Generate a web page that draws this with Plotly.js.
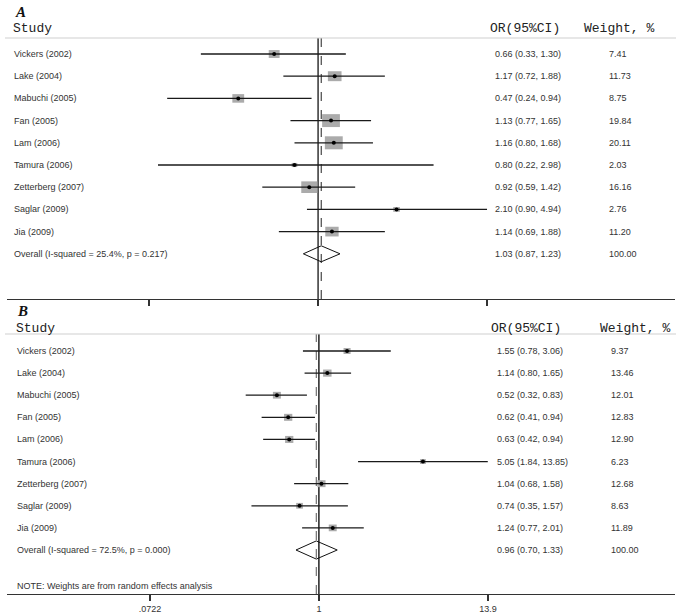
<!DOCTYPE html>
<html><head><meta charset="utf-8">
<script src="https://cdn.plot.ly/plotly-3.0.1.min.js"></script>
<style>html,body{margin:0;padding:0;background:#fff}</style>
</head><body><div id="chart" style="width:683px;height:615px"></div>
<script>
// ---------- data ----------
const studies = ["Vickers (2002)","Lake (2004)","Mabuchi (2005)","Fan (2005)","Lam (2006)","Tamura (2006)","Zetterberg (2007)","Saglar (2009)","Jia (2009)"];
// Panel A
const orA = [0.66,1.17,0.47,1.13,1.16,0.80,0.92,2.10,1.14];
const loA = [0.33,0.72,0.24,0.77,0.80,0.22,0.59,0.90,0.69];
const hiA = [1.30,1.88,0.94,1.65,1.68,2.98,1.42,4.94,1.88];
const wA  = [7.41,11.73,8.75,19.84,20.11,2.03,16.16,2.76,11.20];
const overallA = [1.03,0.87,1.23];
const overallLabelA = "Overall (I-squared = 25.4%, p = 0.217)";
const tickValsA = [0.202,1,4.94];
// Panel B
const orB = [1.55,1.14,0.52,0.62,0.63,5.05,1.04,0.74,1.24];
const loB = [0.78,0.80,0.32,0.41,0.42,1.84,0.68,0.35,0.77];
const hiB = [3.06,1.65,0.83,0.94,0.94,13.85,1.58,1.57,2.01];
const wB  = [9.37,13.46,12.01,12.83,12.90,6.23,12.68,8.63,11.89];
const overallB = [0.96,0.70,1.33];
const overallLabelB = "Overall (I-squared = 72.5%, p = 0.000)";
const tickValsB = [0.0722,1,13.9];
const tickTextB = [".0722","1","13.9"];
const overallWeight = "100.00";
const noteText = "NOTE: Weights are from random effects analysis";

// ---------- layout helpers ----------
const W=683, H=615;
const px = x => x/W, py = y => 1 - y/H;
const bodyFont = {family:"Liberation Sans, Arial, sans-serif", size:9, color:"#333"};
const headFont = {family:"Liberation Mono, DejaVu Sans Mono, monospace", size:13, color:"#222"};
const fmt = v => v.toFixed(2);

function panel(xa, ya, or, lo, hi, w, ov, ovLabel, boxW, boxH, diamH, cfg){
  const traces = [];
  const n = or.length;
  const rows = or.map((_,i)=>i+1);
  const ovRow = n+1;
  const lx=[], ly=[];
  for(let i=0;i<n;i++){ lx.push(lo[i],hi[i],null); ly.push(rows[i],rows[i],null); }
  traces.push({type:"scatter",mode:"lines",x:lx,y:ly,xaxis:xa,yaxis:ya,
    line:{color:"#1a1a1a",width:1.3},hoverinfo:"skip",showlegend:false});
  traces.push({type:"scatter",mode:"markers",x:or,y:rows,xaxis:xa,yaxis:ya,
    marker:{symbol:"circle",size:4,color:"#000"},hoverinfo:"skip",showlegend:false});
  traces.push({type:"scatter",mode:"lines",
    x:[ov[1],ov[0],ov[2],ov[0],ov[1]], y:[ovRow,ovRow-diamH,ovRow,ovRow+diamH,ovRow],
    xaxis:xa,yaxis:ya,line:{color:"#111",width:1},hoverinfo:"skip",showlegend:false});

  const yref = ya;
  const ann = [];
  for(let i=0;i<n;i++){
    ann.push({xref:"paper",x:px(cfg.nameX),xanchor:"left",yref:yref,y:rows[i],text:studies[i],showarrow:false,font:bodyFont,borderpad:0});
    ann.push({xref:"paper",x:px(cfg.orX),xanchor:"left",yref:yref,y:rows[i],text:`${fmt(or[i])} (${fmt(lo[i])}, ${fmt(hi[i])})`,showarrow:false,font:bodyFont,borderpad:0});
    ann.push({xref:"paper",x:px(cfg.wX),xanchor:"left",yref:yref,y:rows[i],text:fmt(w[i]),showarrow:false,font:bodyFont,borderpad:0});
  }
  ann.push({xref:"paper",x:px(cfg.nameX),xanchor:"left",yref:yref,y:ovRow,text:ovLabel,showarrow:false,font:bodyFont,borderpad:0});
  ann.push({xref:"paper",x:px(cfg.orX),xanchor:"left",yref:yref,y:ovRow,text:`${fmt(ov[0])} (${fmt(ov[1])}, ${fmt(ov[2])})`,showarrow:false,font:bodyFont,borderpad:0});
  ann.push({xref:"paper",x:px(cfg.wX),xanchor:"left",yref:yref,y:ovRow,text:overallWeight,showarrow:false,font:bodyFont,borderpad:0});
  // headers
  ann.push({xref:"paper",yref:"paper",x:px(cfg.nameX-1),y:py(cfg.headY),xanchor:"left",yanchor:"middle",text:"Study",showarrow:false,font:headFont,borderpad:0});
  ann.push({xref:"paper",yref:"paper",x:px(cfg.orHX),y:py(cfg.headY),xanchor:"left",yanchor:"middle",text:"OR(95%CI)",showarrow:false,font:headFont,borderpad:0});
  ann.push({xref:"paper",yref:"paper",x:px(cfg.wHX),y:py(cfg.headY),xanchor:"left",yanchor:"middle",text:"Weight, %",showarrow:false,font:headFont,borderpad:0});
  ann.push({xref:"paper",yref:"paper",x:px(cfg.letterX),y:py(cfg.letterY),xanchor:"left",yanchor:"middle",text:cfg.letter,showarrow:false,
    font:{family:"Liberation Serif, DejaVu Serif, serif",size:15,color:"#111",style:"italic",weight:"bold"},borderpad:0});

  const shapes = [];
  // weight boxes (drawn beneath CI lines), sized by sqrt(weight)
  for(let i=0;i<n;i++){
    const hwLn = boxW*Math.sqrt(w[i])/2, hh = boxH*Math.sqrt(w[i])/2;
    shapes.push({type:"rect",layer:"below",xref:xa,yref:ya,
      x0:or[i]*Math.exp(-hwLn),x1:or[i]*Math.exp(hwLn),y0:rows[i]-hh,y1:rows[i]+hh,
      fillcolor:"#ababab",line:{width:0}});
  }
  shapes.push({type:"line",layer:"below",xref:xa,x0:1,x1:1,yref:ya+" domain",y0:0,y1:1,line:{color:cfg.nullColor,width:cfg.nullW}});
  shapes.push({type:"line",layer:"below",xref:xa,x0:ov[0],x1:ov[0],yref:ya+" domain",y0:0,y1:1,line:{color:cfg.ovColor,width:1,dash:"dash"}});
  shapes.push({type:"line",xref:"paper",x0:px(5),x1:px(676),yref:"paper",y0:py(cfg.ruleY),y1:py(cfg.ruleY),line:{color:"#cfcfcf",width:1.2}});
  return {traces, ann, shapes};
}

// box sizes: width in ln-units per sqrt(weight), height in row-units per sqrt(weight)
const pA = panel("x","y",orA,loA,hiA,wA,overallA,overallLabelA,4.0/106,2.9/22.2,0.36,
  {nameX:13,orX:494,wX:608,orHX:489,wHX:583,headY:29,ruleY:38,letter:"A",letterX:14,letterY:12,nullColor:"#555",nullW:1.8,ovColor:"#222"});
const pB = panel("x2","y2",orB,loB,hiB,wB,overallB,overallLabelB,2.3/64.2,1.95/22.1,0.41,
  {nameX:16,orX:496,wX:610,orHX:490,wHX:599,headY:328,ruleY:334,letter:"B",letterX:16,letterY:311,nullColor:"#111",nullW:1.4,ovColor:"#555"});

pB.ann.push({xref:"paper",yref:"paper",x:px(16),y:py(586),xanchor:"left",yanchor:"middle",text:noteText,showarrow:false,font:bodyFont,borderpad:0});

const axisCommon = {type:"log",showgrid:false,zeroline:false,showline:true,linecolor:"#333",linewidth:1.2,
  ticks:"outside",ticklen:6,tickwidth:1.3,tickcolor:"#333",tickfont:bodyFont,fixedrange:true};
const yCommon = {showgrid:false,zeroline:false,showline:false,showticklabels:false,ticks:"",fixedrange:true};

const layout = {
  width:W,height:H,margin:{l:0,r:0,t:0,b:0},paper_bgcolor:"#fff",plot_bgcolor:"rgba(0,0,0,0)",
  showlegend:false,
  xaxis:Object.assign({},axisCommon,{domain:[px(7),px(675)],anchor:"y",range:[-1.2776,1.4657],
    tickvals:tickValsA,showticklabels:false}),
  yaxis:Object.assign({},yCommon,{domain:[py(299),py(38)],range:[12.036,0.279]}),
  xaxis2:Object.assign({},axisCommon,{domain:[px(7),px(675)],anchor:"y2",range:[-2.1082,2.4069],
    tickvals:tickValsB,ticktext:tickTextB}),
  yaxis2:Object.assign({},yCommon,{domain:[py(594),py(334)],range:[11.99,0.231]}),
  annotations:pA.ann.concat(pB.ann),
  shapes:pA.shapes.concat(pB.shapes)
};
Plotly.newPlot("chart",pA.traces.concat(pB.traces),layout,{staticPlot:true,displayModeBar:false});
</script></body></html>
